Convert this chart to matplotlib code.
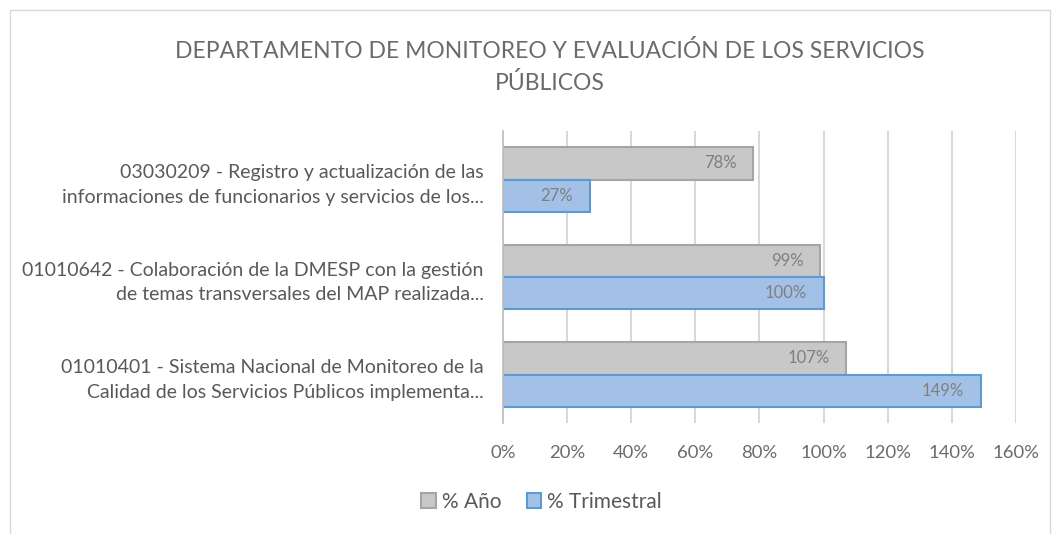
import matplotlib.pyplot as plt
import numpy as np
from matplotlib.patches import Rectangle

# Datos del grafico (orden de arriba hacia abajo)
categorias = [
    "03030209 - Registro y actualización de las\ninformaciones de funcionarios y servicios de los...",
    "01010642 - Colaboración de la DMESP con la gestión\nde temas transversales del MAP realizada...",
    "01010401 - Sistema Nacional de Monitoreo de la\nCalidad de los Servicios Públicos implementa...",
]
pct_anio = [78, 99, 107]
pct_trimestral = [27, 100, 149]
ticks_x = [0, 20, 40, 60, 80, 100, 120, 140, 160]

titulo = "DEPARTAMENTO DE MONITOREO Y EVALUACIÓN DE LOS SERVICIOS\nPÚBLICOS"
texto_gris = "#595959"

plt.rcParams["font.family"] = ["Lato", "DejaVu Sans"]

fig = plt.figure(figsize=(10.58, 5.34), dpi=100)
ax = fig.add_axes([0.4754, 0.2074, 0.4849, 0.5477])

# marco del grafico
fig.patches.append(Rectangle((0.0095, -0.01), 0.983, 0.991, transform=fig.transFigure,
                             fill=False, edgecolor="#d9d9d9", linewidth=1))

y = np.arange(len(categorias))
alto = 0.33

b1 = ax.barh(y - alto / 2, pct_anio, height=alto, color="#c8c8c8", edgecolor="#a5a5a5",
             linewidth=1.5, label="% Año", zorder=3)
b2 = ax.barh(y + alto / 2, pct_trimestral, height=alto, color="#a3c1e6", edgecolor="#5b9bd5",
             linewidth=1.5, label="% Trimestral", zorder=3)

for barras in (b1, b2):
    for barra in barras:
        v = barra.get_width()
        ax.annotate(f"{v:.0f}%", (v, barra.get_y() + barra.get_height() / 2),
                    xytext=(-12, 0), textcoords="offset points",
                    ha="right", va="center", color="#7f7f7f", fontsize=12, zorder=4)

ax.set_xlim(0, 160)
ax.set_ylim(len(categorias) - 0.5, -0.5)
ax.set_xticks(ticks_x)
ax.set_xticklabels([f"{t}%" for t in ticks_x])
ax.set_yticks(y)
ax.set_yticklabels(categorias, ha="right", linespacing=1.55)

ax.grid(axis="x", color="#d9d9d9", linewidth=1.5, zorder=0)
for lado in ["top", "right", "bottom"]:
    ax.spines[lado].set_visible(False)
ax.spines["left"].set_color("#bfbfbf")
ax.spines["left"].set_linewidth(1.2)
ax.spines["left"].set_zorder(5)
ax.tick_params(axis="both", length=0, colors=texto_gris, labelsize=13.3)
ax.tick_params(axis="x", colors="#6b6b6b")
ax.tick_params(axis="y", labelsize=14, pad=14)
ax.tick_params(axis="x", pad=16)

fig.text(0.52, 0.875, titulo, ha="center", va="center", fontsize=16.5,
         color="#6b6b6b", linespacing=1.55)

fig.legend(handles=[b1, b2], labels=["% Año", "% Trimestral"], loc="center",
           bbox_to_anchor=(0.512, 0.06), ncol=2, frameon=False, fontsize=15,
           labelcolor=texto_gris, handlelength=0.7, handleheight=0.7,
           handletextpad=0.3, columnspacing=1.2)

fig.savefig("out.png", dpi=100)
